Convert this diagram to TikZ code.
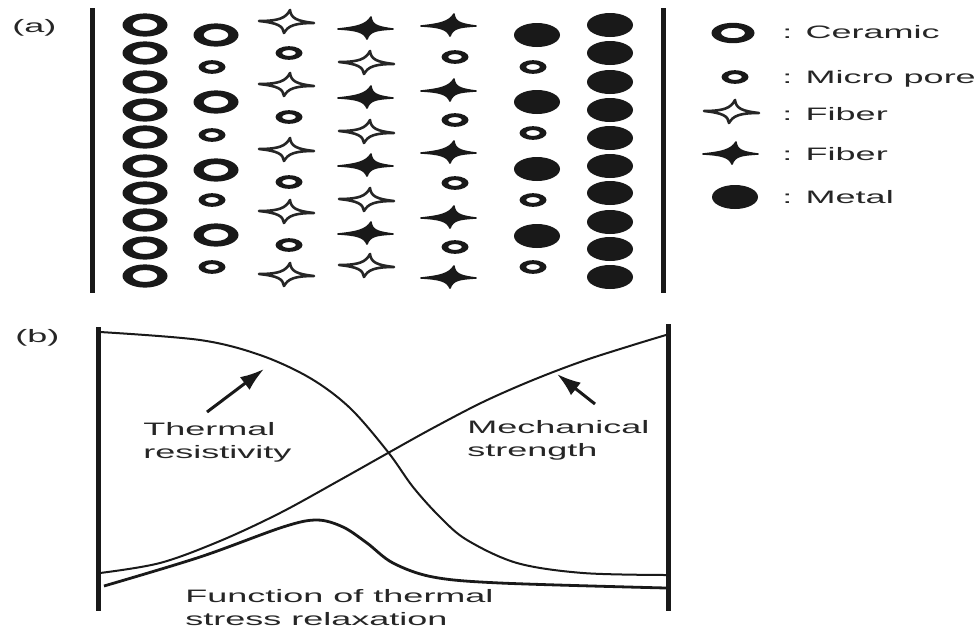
\documentclass[tikz,border=0pt]{standalone}
\usepackage{fontspec}
\setmainfont{Liberation Sans}
\usepackage{graphicx}
\usetikzlibrary{arrows.meta}
\tikzset{
  x=0.5pt, y=-0.5pt,
  lbl/.style={anchor=base west, inner sep=0pt, font=\fontsize{9}{11}\selectfont, text=black!85},
  wall/.style={line width=2.5pt, black!90},
  curve/.style={line width=1pt, black!90},
  relax/.style={line width=1.4pt, black!90},
  arr/.style={line width=1.5pt, black!90, -{Latex[length=12pt,width=8pt]}},
  ceram/.pic={\fill[black!90, even odd rule] (0,0) ellipse [x radius=11.25pt, y radius=5.8pt]
      (0,0) ellipse [x radius=6.2pt, y radius=3pt];},
  lceram/.pic={\fill[black!90, even odd rule] (0,0) ellipse [x radius=10.75pt, y radius=5.1pt]
      (0,0) ellipse [x radius=6pt, y radius=2.6pt];},
  pore/.pic={\fill[black!90, even odd rule] (0,0) ellipse [x radius=6.75pt, y radius=3.4pt]
      (0,0) ellipse [x radius=3.4pt, y radius=1.45pt];},
  metal/.pic={\fill[black!90] (0,0) ellipse [x radius=11.5pt, y radius=6pt];},
  hstar/.pic={\draw[line width=1.3pt, black!85, line join=round]
     (-28,-1) .. controls (-8,-1) and (-1,-4) .. (3,-12)
     .. controls (4,-4) and (9,-1) .. (27,1)
     .. controls (7,1) and (1,4) .. (-3,11)
     .. controls (-4,4) and (-9,1) .. cycle;},
  fstar/.pic={\filldraw[line width=0.8pt, black!90, line join=round]
     (-29,1) .. controls (-10,-1) and (-1,-3) .. (4,-11)
     .. controls (5,-3) and (10,-1) .. (26,1)
     .. controls (9,2) and (3,3) .. (0,11)
     .. controls (-3,4) and (-10,2) .. cycle;}
}
\begin{document}
\begin{tikzpicture}
\useasboundingbox[fill=white] (0,0) rectangle (980,633);

% ---------- panel (a) ----------
\node[lbl] (la) at (12,32) {\scalebox{2}[1]{(a)}};
\coordinate (aL1) at (92,8);  \coordinate (aL2) at (92,293);
\coordinate (aR1) at (663,8); \coordinate (aR2) at (663,293);
\draw[wall] (aL1) -- (aL2);
\draw[wall] (aR1) -- (aR2);

% column 1: ceramic
\foreach \yy in {25,53,82,110,137,166,193,220,248,276} \pic at (145,\yy) {ceram};
% column 2
\foreach \yy in {35,102,170,235} \pic at (216,\yy) {ceram};
\foreach \yy in {67,135,200,267} \pic at (212,\yy) {pore};
% column 3
\foreach \yy in {22,85,150,212,275} \pic at (287,\yy) {hstar};
\foreach \yy in {53,117,182,245} \pic at (289,\yy) {pore};
% column 4
\foreach \yy in {28,97,165,233} \pic at (367,\yy) {fstar};
\foreach \yy in {63,132,200,266} \pic at (367,\yy) {hstar};
% column 5
\foreach \yy in {25,90,152,217,277} \pic at (450,\yy) {fstar};
\foreach \yy in {57,120,183,247} \pic at (455,\yy) {pore};
% column 6
\foreach \yy in {35,102,169,236} \pic at (537,\yy) {metal};
\foreach \yy in {67,133,200,267} \pic at (533,\yy) {pore};
% column 7
\foreach \yy in {25,53,82,110,138,166,193,222,249,277} \pic at (610,\yy) {metal};

% legend
\pic at (733,33) {lceram};
\pic at (735,77) {pore};
\pic at (732,112) {hstar};
\pic at (732,153) {fstar};
\pic at (735,197) {metal};
\node[lbl] (l1) at (782,38) {\scalebox{2}[1]{: Ceramic}};
\node[lbl] (l2) at (782,83) {\scalebox{2}[1]{: Micro pore}};
\node[lbl] (l3) at (782,120) {\scalebox{2}[1]{: Fiber}};
\node[lbl] (l4) at (782,160) {\scalebox{2}[1]{: Fiber}};
\node[lbl] (l5) at (782,203) {\scalebox{2}[1]{: Metal}};

% ---------- panel (b) ----------
\node[lbl] (lb) at (15,342) {\scalebox{2}[1]{(b)}};
\coordinate (bL1) at (98,327);  \coordinate (bL2) at (98,611);
\coordinate (bR1) at (668,324); \coordinate (bR2) at (668,611);
\draw[wall] (bL1) -- (bL2);
\draw[wall] (bR1) -- (bR2);

% thermal resistivity
\draw[curve] plot[smooth, tension=0.55] coordinates {(100,332) (200,340) (260,355) (310,378) (350,408) (388,452) (413,487) (440,517) (467,540) (517,563) (583,573) (666,575)};
% mechanical strength
\draw[curve] plot[smooth, tension=0.55] coordinates {(100,573) (160,563) (220,541) (280,513) (340,480) (388,453) (433,428) (483,402) (533,380) (583,361) (633,345) (666,335)};
% thermal stress relaxation
\draw[relax] plot[smooth, tension=0.55] coordinates {(104,586) (200,557) (283,527) (317,520) (343,527) (367,543) (393,563) (433,577) (500,583) (666,588)};

% arrows
\coordinate (ta1) at (207,412); \coordinate (ta2) at (264,369);
\coordinate (ma1) at (595,404); \coordinate (ma2) at (557,374);
\draw[arr] (ta1) -- (ta2);
\draw[arr] (ma1) -- (ma2);

\node[lbl] (t1) at (143,435) {\scalebox{2}[1]{Thermal}};
\node[lbl] (t2) at (143,458) {\scalebox{2}[1]{resistivity}};
\node[lbl] (m1) at (467,433) {\scalebox{2}[1]{Mechanical}};
\node[lbl] (m2) at (467,456) {\scalebox{2}[1]{strength}};
\node[lbl] (f1) at (185,602) {\scalebox{2}[1]{Function of thermal}};
\node[lbl] (f2) at (185,625) {\scalebox{2}[1]{stress relaxation}};
\end{tikzpicture}
\end{document}
